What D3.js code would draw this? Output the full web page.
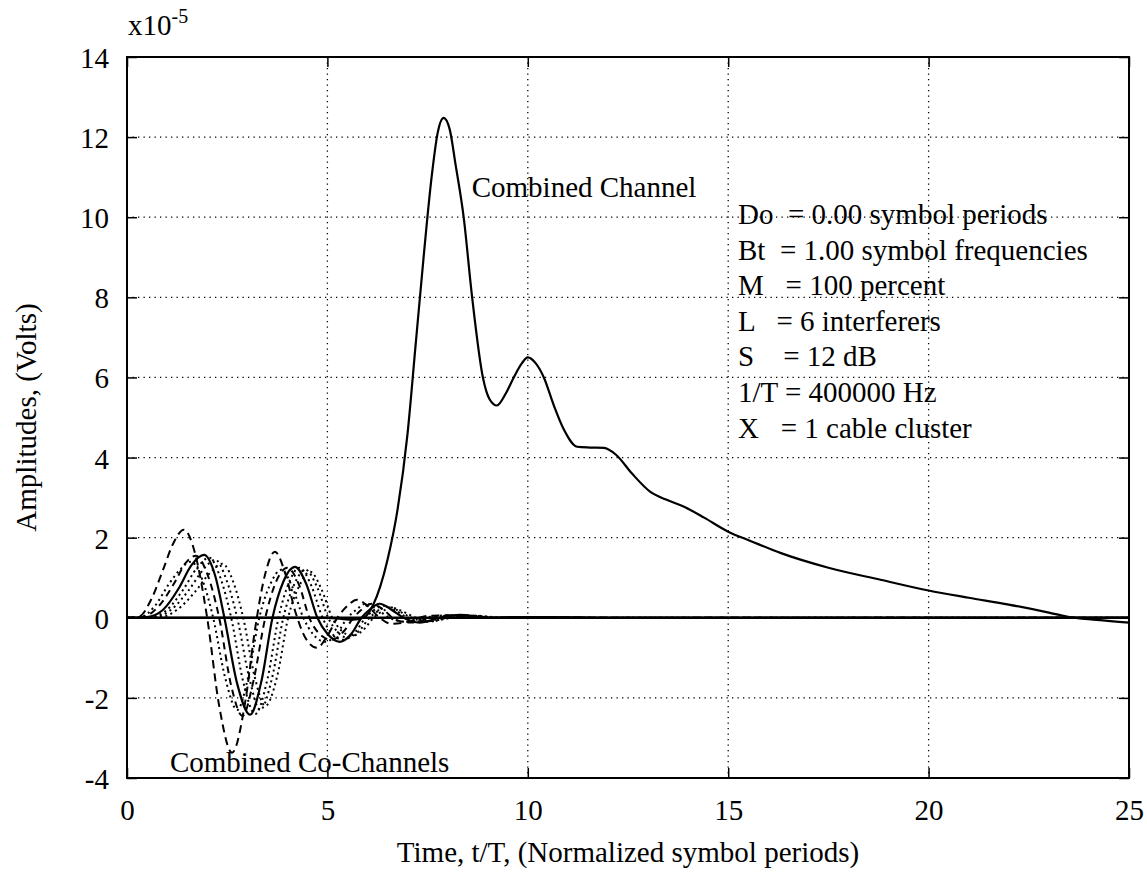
<!DOCTYPE html>
<html>
<head>
<meta charset="utf-8">
<script src="https://cdn.jsdelivr.net/npm/d3@7"></script>
<style>
    body { margin: 0; background: #ffffff; }
    text { font-family: "Liberation Serif", "Times New Roman", serif; fill: #000000; }
    .grid line { stroke: #000000; stroke-width: 1.3; stroke-dasharray: 1.3 4.2; }
</style>
</head>
<body>
<div id="chart-area"></div>
<script>
// axis ticks (values in units of 1e-5 volts)
const xTicks = [0, 5, 10, 15, 20, 25];
const yTicks = [-4, -2, 0, 2, 4, 6, 8, 10, 12, 14];

// combined channel (solid line)
const chanT = [0, 5.0, 5.6, 5.9, 6.14, 6.5, 6.75, 7.0, 7.2, 7.4, 7.6, 7.75, 7.9, 8.05, 8.2, 8.4, 8.6, 8.88, 9.05, 9.23, 9.45, 9.65, 9.85, 10.0, 10.2, 10.4, 10.65, 10.9, 11.23, 11.55, 11.9, 12.2, 12.6, 13.05, 13.45, 13.9, 14.4, 15.0, 15.6, 16.3, 17.5, 18.8, 20, 21, 22, 23, 23.45, 24.2, 25];
const chanV = [0, 0, -0.05, 0, 0.32, 1.45, 2.7, 4.6, 6.8, 9.0, 11.0, 12.1, 12.48, 12.2, 11.3, 10.0, 8.1, 6.0, 5.45, 5.3, 5.6, 6.0, 6.35, 6.5, 6.35, 6.0, 5.3, 4.7, 4.27, 4.25, 4.24, 4.07, 3.6, 3.15, 2.95, 2.77, 2.5, 2.15, 1.9, 1.62, 1.25, 0.95, 0.68, 0.5, 0.33, 0.13, 0.03, -0.05, -0.12];

// co-channel interferers
const coAT = [0, 0.3, 0.6, 0.9, 1.15, 1.42, 1.7, 2.0, 2.3, 2.62, 2.95, 3.2, 3.45, 3.69, 3.95, 4.2, 4.45, 4.74, 5.0, 5.25, 5.5, 5.74, 6.0, 6.25, 6.6, 7.0, 7.5, 8.0, 9.0, 10, 12, 25];
const coAV = [0, 0.03, 0.45, 1.2, 1.85, 2.2, 1.6, 0, -2.2, -3.37, -2.1, -0.25, 1.1, 1.65, 1.1, 0.15, -0.5, -0.75, -0.45, 0, 0.3, 0.45, 0.3, 0.05, -0.15, -0.1, 0.05, 0.06, 0, 0.02, 0, 0];

const coBT = [0, 0.4, 0.8, 1.2, 1.45, 1.72, 2.0, 2.3, 2.6, 2.88, 3.15, 3.45, 3.72, 4.0, 4.3, 4.55, 4.8, 5.1, 5.4, 5.65, 5.85, 6.1, 6.4, 6.7, 7.1, 7.6, 8.2, 9, 10, 12, 25];
const coBV = [0, 0.02, 0.3, 0.9, 1.35, 1.55, 1.1, 0, -1.7, -2.45, -1.6, 0, 0.9, 1.25, 0.8, 0, -0.4, -0.55, -0.35, 0, 0.2, 0.35, 0.2, -0.05, -0.12, 0, 0.06, 0, 0.02, 0, 0];

const coST = [0, 0.5, 0.9, 1.3, 1.6, 1.92, 2.2, 2.43, 2.75, 3.07, 3.35, 3.63, 3.9, 4.19, 4.47, 4.75, 5.0, 5.31, 5.6, 5.85, 6.05, 6.3, 6.6, 6.9, 7.3, 7.8, 8.3, 9, 10, 12, 25];
const coSV = [0, 0.02, 0.2, 0.75, 1.3, 1.57, 1.05, 0, -1.65, -2.42, -1.6, 0, 0.9, 1.27, 0.85, 0, -0.4, -0.6, -0.4, 0, 0.2, 0.35, 0.2, 0, -0.12, 0, 0.07, 0, 0.02, 0, 0];

const coD1T = [0, 0.6, 1.0, 1.4, 1.75, 2.05, 2.33, 2.6, 2.9, 3.2, 3.5, 3.78, 4.05, 4.3, 4.6, 4.88, 5.1, 5.4, 5.7, 5.95, 6.15, 6.4, 6.7, 7.0, 7.4, 7.9, 8.5, 9.2, 10, 12, 25];
const coD1V = [0, 0.02, 0.2, 0.7, 1.25, 1.5, 1.0, 0, -1.6, -2.4, -1.55, 0, 0.9, 1.25, 0.8, 0, -0.38, -0.55, -0.35, 0, 0.18, 0.3, 0.18, 0, -0.1, 0, 0.06, 0, 0.02, 0, 0];

const coD2T = [0, 0.7, 1.1, 1.55, 1.9, 2.2, 2.48, 2.75, 3.05, 3.32, 3.62, 3.9, 4.18, 4.45, 4.75, 5.02, 5.25, 5.5, 5.8, 6.05, 6.25, 6.5, 6.8, 7.1, 7.5, 8.0, 8.6, 9.3, 10, 12, 25];
const coD2V = [0, 0.02, 0.2, 0.7, 1.2, 1.45, 0.95, 0, -1.5, -2.3, -1.5, 0, 0.85, 1.2, 0.75, 0, -0.35, -0.5, -0.32, 0, 0.16, 0.28, 0.16, 0, -0.1, 0, 0.05, 0, 0.02, 0, 0];

const coD3T = [0, 0.85, 1.25, 1.7, 2.05, 2.38, 2.65, 2.9, 3.18, 3.45, 3.75, 4.02, 4.3, 4.57, 4.85, 5.12, 5.35, 5.6, 5.9, 6.15, 6.35, 6.6, 6.9, 7.2, 7.6, 8.1, 8.7, 9.4, 10, 12, 25];
const coD3V = [0, 0.02, 0.2, 0.65, 1.1, 1.35, 0.9, 0, -1.45, -2.2, -1.45, 0, 0.8, 1.15, 0.72, 0, -0.32, -0.45, -0.3, 0, 0.15, 0.25, 0.15, 0, -0.08, 0, 0.05, 0, 0.02, 0, 0];

const coD4T = [0, 0.35, 0.7, 1.05, 1.32, 1.6, 1.88, 2.15, 2.45, 2.75, 3.02, 3.3, 3.58, 3.85, 4.12, 4.4, 4.65, 4.95, 5.25, 5.5, 5.72, 5.95, 6.25, 6.55, 6.95, 7.4, 8.0, 8.8, 10, 12, 25];
const coD4V = [0, 0.02, 0.3, 0.85, 1.2, 1.4, 0.95, 0, -1.5, -2.3, -1.5, 0, 0.85, 1.2, 0.78, 0, -0.42, -0.6, -0.38, 0, 0.2, 0.35, 0.2, 0, -0.1, 0, 0.06, 0, 0.02, 0, 0];

// zero reference line
const zeroT = [0, 25];
const zeroV = [0, 0];

// parameter block text
const paramLines = [
    "Do  = 0.00 symbol periods",
    "Bt  = 1.00 symbol frequencies",
    "M   = 100 percent",
    "L   = 6 interferers",
    "S    = 12 dB",
    "1/T = 400000 Hz",
    "X   = 1 cable cluster"
];

const MARGIN = { LEFT: 127, RIGHT: 18, TOP: 57, BOTTOM: 101 };
const WIDTH = 1147 - MARGIN.LEFT - MARGIN.RIGHT;
const HEIGHT = 879 - MARGIN.TOP - MARGIN.BOTTOM;
const FONT = 29;

const svg = d3.select("#chart-area").append("svg")
    .attr("width", 1147)
    .attr("height", 879);
const g = svg.append("g")
    .attr("transform", `translate(${MARGIN.LEFT}, ${MARGIN.TOP})`);

// scales
const x = d3.scaleLinear().domain([0, 25]).range([0, WIDTH]);
const y = d3.scaleLinear().domain([-4, 14]).range([HEIGHT, 0]);

// dotted grid
const grid = g.append("g").attr("class", "grid");
grid.selectAll(".vgrid")
    .data(xTicks.filter(d => d > 0 && d < 25))
    .enter().append("line")
    .attr("x1", d => x(d)).attr("x2", d => x(d))
    .attr("y1", 0).attr("y2", HEIGHT);
grid.selectAll(".hgrid")
    .data(yTicks.filter(d => d > -4 && d < 14))
    .enter().append("line")
    .attr("x1", 0).attr("x2", WIDTH)
    .attr("y1", d => y(d)).attr("y2", d => y(d));

// axes, ticks pointing into the plot like matlab; plain hyphen for negatives
const TICK = 10;
const fmt = d => String(d);
const axisStyle = sel => {
    sel.select(".domain").remove();
    sel.selectAll(".tick line").attr("stroke", "#000").attr("stroke-width", 1.5);
    sel.selectAll(".tick text").attr("font-size", FONT).attr("font-family", "Liberation Serif");
};
g.append("g")
    .attr("transform", `translate(0, ${HEIGHT})`)
    .call(d3.axisBottom(x).tickValues(xTicks).tickSize(-TICK).tickPadding(TICK + 11).tickFormat(fmt))
    .call(axisStyle);
g.append("g")
    .call(d3.axisTop(x).tickValues(xTicks).tickSize(-TICK).tickFormat(""))
    .call(axisStyle);
g.append("g")
    .call(d3.axisLeft(y).tickValues(yTicks).tickSize(-TICK).tickPadding(TICK + 8).tickFormat(fmt))
    .call(axisStyle)
    .selectAll(".tick text").attr("dy", "0.36em");
g.append("g")
    .attr("transform", `translate(${WIDTH}, 0)`)
    .call(d3.axisRight(y).tickValues(yTicks).tickSize(-TICK).tickFormat(""))
    .call(axisStyle);

// series
const zip = (ts, vs) => ts.map((t, i) => ({ t: t, v: vs[i] }));
const line = d3.line()
    .x(d => x(d.t))
    .y(d => y(d.v))
    .curve(d3.curveMonotoneX);

const series = [
    { data: zip(zeroT, zeroV), dash: null, w: 2.4 },
    { data: zip(coD3T, coD3V), dash: "2,3.5", w: 2 },
    { data: zip(coD2T, coD2V), dash: "2,3.5", w: 2 },
    { data: zip(coD1T, coD1V), dash: "2,3.5", w: 2 },
    { data: zip(coD4T, coD4V), dash: "2,3.5", w: 2 },
    { data: zip(coBT, coBV), dash: "7,5", w: 2 },
    { data: zip(coAT, coAV), dash: "8,5", w: 2 },
    { data: zip(coST, coSV), dash: null, w: 2.2 },
    { data: zip(chanT, chanV), dash: null, w: 2.2 }
];
g.selectAll(".series")
    .data(series)
    .enter().append("path")
    .attr("class", "series")
    .attr("fill", "none")
    .attr("stroke", "#000")
    .attr("stroke-width", d => d.w)
    .attr("stroke-dasharray", d => d.dash)
    .attr("d", d => line(d.data));

// frame
g.append("rect")
    .attr("width", WIDTH)
    .attr("height", HEIGHT)
    .attr("fill", "none")
    .attr("stroke", "#000")
    .attr("stroke-width", 2);

// exponent label
const expo = svg.append("text")
    .attr("x", MARGIN.LEFT + 1)
    .attr("y", 35)
    .attr("font-size", FONT);
expo.append("tspan").text("x10");
expo.append("tspan").attr("dy", -12).attr("font-size", 20).text("-5");

// annotations
g.append("text")
    .attr("x", x(8.6))
    .attr("y", 140)
    .attr("font-size", FONT)
    .text("Combined Channel");
g.append("text")
    .attr("x", x(1.07))
    .attr("y", 715)
    .attr("font-size", FONT)
    .text("Combined Co-Channels");

g.selectAll(".param")
    .data(paramLines)
    .enter().append("text")
    .attr("class", "param")
    .attr("x", 611)
    .attr("y", (d, i) => 167 + i * 35.6)
    .attr("font-size", FONT)
    .attr("xml:space", "preserve")
    .style("white-space", "pre")
    .text(d => d);

// axis titles
svg.append("text")
    .attr("x", MARGIN.LEFT + WIDTH / 2)
    .attr("y", 862)
    .attr("text-anchor", "middle")
    .attr("font-size", FONT)
    .text("Time, t/T, (Normalized symbol periods)");
svg.append("text")
    .attr("transform", `translate(36, ${MARGIN.TOP + HEIGHT / 2}) rotate(-90)`)
    .attr("text-anchor", "middle")
    .attr("font-size", FONT)
    .text("Amplitudes, (Volts)");
</script>
</body>
</html>
